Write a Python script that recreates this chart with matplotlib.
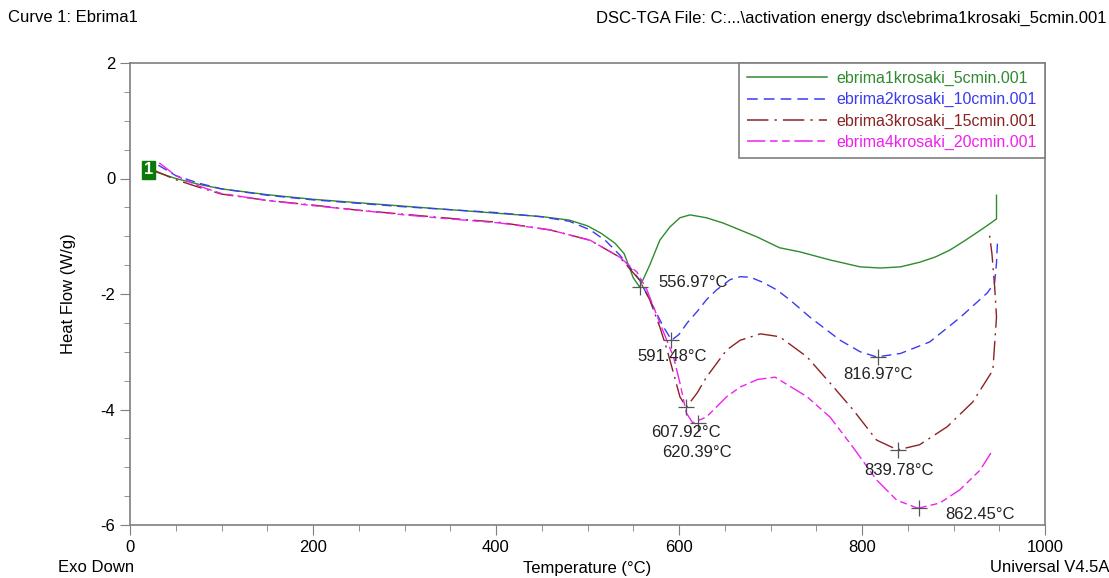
import matplotlib
matplotlib.use("Agg")
import matplotlib.pyplot as plt
from matplotlib.ticker import MultipleLocator
from matplotlib.lines import Line2D

plt.rcParams['axes.unicode_minus'] = False

# ---------- data ----------
t_5 = [27, 50, 75, 100, 150, 200, 250, 300, 350, 400, 450, 480, 500, 515, 530, 540, 550, 557,
       568, 579, 590, 601, 612, 630, 648, 665, 685, 710, 732, 765, 798, 820, 842, 863, 880,
       896, 912, 929, 940, 947, 947]
hf_5 = [0.12, 0.0, -0.1, -0.18, -0.28, -0.36, -0.42, -0.48, -0.54, -0.6, -0.66, -0.72, -0.82,
        -0.95, -1.12, -1.3, -1.72, -1.88, -1.5, -1.07, -0.84, -0.68, -0.63, -0.68, -0.77, -0.88,
        -1.01, -1.2, -1.27, -1.41, -1.53, -1.55, -1.53, -1.45, -1.36, -1.24, -1.08, -0.9, -0.78,
        -0.7, -0.29]

t_10 = [31, 50, 75, 100, 150, 200, 250, 300, 350, 400, 448, 480, 503, 520, 535, 547, 557, 568,
        583, 592, 600, 609, 620, 630, 641, 656, 667, 678, 692, 707, 721, 743, 776, 798, 816,
        842, 874, 907, 937, 945, 947, 948]
hf_10 = [0.23, 0.05, -0.08, -0.18, -0.29, -0.37, -0.43, -0.49, -0.54, -0.59, -0.66, -0.74,
         -0.89, -1.08, -1.32, -1.55, -1.76, -2.1, -2.57, -2.8, -2.7, -2.5, -2.3, -2.1, -1.93,
         -1.75, -1.7, -1.71, -1.8, -1.93, -2.1, -2.4, -2.8, -3.0, -3.09, -3.03, -2.83, -2.41,
         -1.98, -1.8, -1.46, -1.12]

t_15 = [25, 50, 75, 100, 150, 200, 250, 300, 350, 404, 459, 503, 535, 557, 568, 579, 587, 594,
        601, 608, 620, 630, 652, 667, 689, 710, 740, 765, 790, 816, 839, 863, 893, 921, 943,
        947, 945, 942, 939]
hf_15 = [0.15, -0.02, -0.15, -0.27, -0.38, -0.46, -0.55, -0.62, -0.69, -0.76, -0.89, -1.07,
         -1.36, -1.76, -2.1, -2.57, -2.97, -3.37, -3.78, -3.96, -3.71, -3.44, -2.97, -2.8, -2.69,
         -2.74, -3.09, -3.54, -4.0, -4.53, -4.7, -4.61, -4.3, -3.87, -3.32, -2.4, -1.88, -1.3,
         -0.93]

t_20 = [32, 50, 75, 100, 150, 200, 250, 300, 350, 404, 459, 503, 535, 554, 565, 579, 594, 601,
        608, 615, 630, 652, 667, 686, 705, 740, 765, 790, 816, 838, 861, 885, 907, 929, 943]
hf_20 = [0.27, 0.05, -0.13, -0.26, -0.38, -0.47, -0.55, -0.63, -0.7, -0.77, -0.89, -1.07,
         -1.36, -1.62, -1.93, -2.5, -3.09, -3.54, -4.06, -4.23, -4.13, -3.78, -3.61, -3.48,
         -3.44, -3.78, -4.13, -4.65, -5.22, -5.57, -5.71, -5.62, -5.39, -5.05, -4.7]

labels = ["ebrima1krosaki_5cmin.001", "ebrima2krosaki_10cmin.001",
          "ebrima3krosaki_15cmin.001", "ebrima4krosaki_20cmin.001"]

# peak temperatures and heat flow at each peak
peak_t = [556.97, 591.48, 607.92, 620.39, 816.97, 839.78, 862.45]
peak_hf = [-1.88, -2.8, -3.96, -4.23, -3.09, -4.7, -5.71]
# where the peak texts go (data coords, left edge / centre)
peak_text_t = [577, 554, 570, 582, 779, 802, 891]
peak_text_hf = [-1.8, -3.08, -4.4, -4.74, -3.4, -5.05, -5.82]

farger = ["#2e8b2e", "#3b3bf0", "#8b2323", "#f020f0"]
stiler = ["-", (0, (7, 4)), (0, (14, 4, 1.5, 4)), (0, (12, 3, 5, 3, 5, 3))]

fig = plt.figure(figsize=(11.09, 5.78), dpi=100)
ax = fig.add_axes([130 / 1109, 1 - 525 / 578, (1045 - 130) / 1109, (525 - 63) / 578])

serier = [(t_5, hf_5), (t_10, hf_10), (t_15, hf_15), (t_20, hf_20)]
for (t, hf), c, ls in zip(serier, farger, stiler):
    ax.plot(t, hf, color=c, linestyle=ls, linewidth=1.0)

for i in range(len(peak_t)):
    ax.plot(peak_t[i], peak_hf[i], marker="+", markersize=11, markeredgewidth=0.9,
            color="#555555", linestyle="none")
    ax.text(peak_text_t[i], peak_text_hf[i], "%.2f°C" % peak_t[i], fontsize=12,
            ha="left", va="center", color="#222222", family="Liberation Sans")

# curve marker "1"
ax.text(20, 0.15, "1", fontsize=12, fontweight="bold", color="white", ha="center",
        va="center", family="Liberation Sans",
        bbox=dict(boxstyle="square,pad=0.1", fc="#0a7a0a", ec="#0a7a0a"))

ax.set_xlim(0, 1000)
ax.set_ylim(-6, 2)
ax.xaxis.set_major_locator(MultipleLocator(200))
ax.xaxis.set_minor_locator(MultipleLocator(50))
ax.yaxis.set_major_locator(MultipleLocator(2))
ax.yaxis.set_minor_locator(MultipleLocator(0.5))
for s in ax.spines.values():
    s.set_color("#7f7f7f")
    s.set_linewidth(1.2)
ax.tick_params(which="both", color="#7f7f7f", direction="out", top=False, right=False)
ax.tick_params(which="major", length=7, labelsize=12)
ax.tick_params(which="minor", length=4)
for lab in ax.get_xticklabels() + ax.get_yticklabels():
    lab.set_family("Liberation Sans")

ax.set_ylabel("Heat Flow (W/g)", fontsize=12, family="Liberation Sans", labelpad=18)

handles = [Line2D([], [], color=c, linestyle=ls, linewidth=1.1) for c, ls in zip(farger, stiler)]
leg = ax.legend(handles, labels, loc="upper right", borderaxespad=0, fancybox=False,
                edgecolor="#7f7f7f", handlelength=5.0, handletextpad=0.6, labelspacing=0.38,
                borderpad=0.5, prop={"family": "Liberation Sans", "size": 11.5},
                labelcolor="linecolor", framealpha=1)
leg.get_frame().set_linewidth(1.2)

hode = "Liberation Sans"
fig.text(8 / 1109, 1 - 18 / 578, "Curve 1: Ebrima1", fontsize=12, family=hode, va="center")
fig.text(1107 / 1109, 1 - 18 / 578, "DSC-TGA File: C:...\\activation energy dsc\\ebrima1krosaki_5cmin.001",
         fontsize=12, family=hode, va="center", ha="right")
fig.text(58 / 1109, 1 - 568 / 578, "Exo Down", fontsize=12, family=hode, va="center")
fig.text(587 / 1109, 1 - 568 / 578, "Temperature (°C)", fontsize=12, family=hode, va="center",
         ha="center")
fig.text(1109 / 1109, 1 - 568 / 578, "Universal V4.5A", fontsize=12, family=hode, va="center",
         ha="right")

fig.savefig("out.png", dpi=100)
